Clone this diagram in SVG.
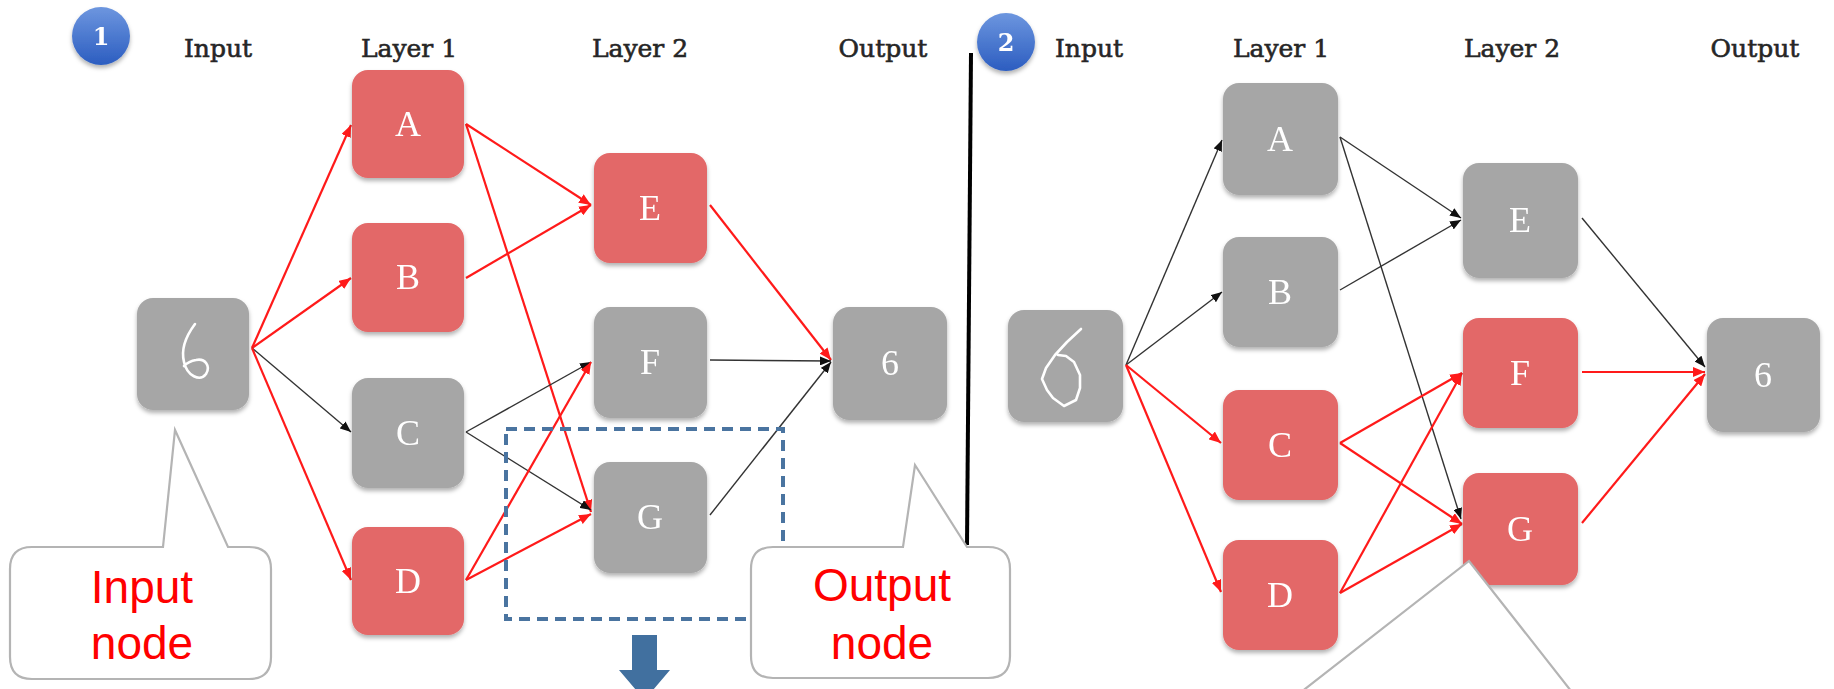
<svg xmlns="http://www.w3.org/2000/svg" width="1834" height="689" viewBox="0 0 1834 689">
  <defs>
    <style>
      .hdr { font-family: "DejaVu Serif", "Liberation Serif", serif; font-size: 25px; fill: #262626; stroke: #262626; stroke-width: 0.6; text-anchor: middle; }
      .lbl { font-family: "Liberation Serif", "DejaVu Serif", serif; font-size: 36px; fill: #ffffff; text-anchor: middle; }
      .badge-t { font-family: "DejaVu Serif", "Liberation Serif", serif; font-size: 24px; font-weight: bold; fill: #ffffff; text-anchor: middle; }
      .red { fill: #e36767; }
      .grey { fill: #a6a6a6; }
      .box { filter: url(#shadow); }
      .r { stroke: #ff1a1a; stroke-width: 2.2; fill: none; marker-end: url(#headR); }
      .k { stroke: #333333; stroke-width: 1.4; fill: none; marker-end: url(#headK); }
      .callout { fill: #ffffff; stroke: #b4b4b4; stroke-width: 2.2; }
      .ctext { font-family: "Liberation Sans", Arial, sans-serif; font-size: 46px; fill: #ff0000; text-anchor: middle; }
      .scrawl { fill: none; stroke: #ffffff; stroke-width: 2.6; stroke-linecap: round; stroke-linejoin: round; }
    </style>
    <filter id="shadow" x="-20%" y="-20%" width="140%" height="150%">
      <feDropShadow dx="0" dy="3" stdDeviation="2" flood-color="#000000" flood-opacity="0.3"/>
    </filter>
    <linearGradient id="badgeFill" x1="0" y1="0" x2="0" y2="1">
      <stop offset="0" stop-color="#6d96df"/>
      <stop offset="1" stop-color="#2c5dc0"/>
    </linearGradient>
    <marker id="headR" markerUnits="userSpaceOnUse" markerWidth="12" markerHeight="10" refX="12" refY="5" orient="auto">
      <path d="M0,0 L12,5 L0,10 z" fill="#ff1a1a"/>
    </marker>
    <marker id="headK" markerUnits="userSpaceOnUse" markerWidth="11" markerHeight="9" refX="11" refY="4.5" orient="auto">
      <path d="M0,0 L11,4.5 L0,9 z" fill="#111111"/>
    </marker>
  </defs>

  <rect width="1834" height="689" fill="#ffffff"/>

  <!-- column headings -->
  <g id="headings">
    <text class="hdr" x="218" y="57">Input</text>
    <text class="hdr" x="409" y="57">Layer 1</text>
    <text class="hdr" x="640" y="57">Layer 2</text>
    <text class="hdr" x="883" y="57">Output</text>
    <text class="hdr" x="1089" y="57">Input</text>
    <text class="hdr" x="1281" y="57">Layer 1</text>
    <text class="hdr" x="1512" y="57">Layer 2</text>
    <text class="hdr" x="1755" y="57">Output</text>
  </g>

  <!-- step badges -->
  <g id="badge1" filter="url(#shadow)">
    <circle cx="101" cy="36" r="29" fill="url(#badgeFill)"/>
    <text class="badge-t" x="101" y="45">1</text>
  </g>
  <g id="badge2" filter="url(#shadow)">
    <circle cx="1006" cy="42" r="29" fill="url(#badgeFill)"/>
    <text class="badge-t" x="1006" y="51">2</text>
  </g>

  <!-- divider between the two passes -->
  <line id="divider" x1="971" y1="53" x2="967" y2="545" stroke="#000000" stroke-width="4"/>

  <!-- connectors -->
  <g id="connectors">
    <!-- pass 1 -->
    <line class="r" x1="252" y1="348" x2="351" y2="125"/>
    <line class="r" x1="252" y1="348" x2="351" y2="278"/>
    <line class="k" x1="252" y1="348" x2="351" y2="432"/>
    <line class="r" x1="252" y1="348" x2="351" y2="580"/>
    <line class="r" x1="466" y1="124" x2="591" y2="205"/>
    <line class="r" x1="466" y1="124" x2="591" y2="512"/>
    <line class="r" x1="466" y1="278" x2="591" y2="205"/>
    <line class="k" x1="466" y1="432" x2="591" y2="362"/>
    <line class="k" x1="466" y1="432" x2="591" y2="510"/>
    <line class="r" x1="466" y1="580" x2="591" y2="362"/>
    <line class="r" x1="466" y1="580" x2="591" y2="514"/>
    <line class="r" x1="710" y1="205" x2="831" y2="360"/>
    <line class="k" x1="710" y1="360" x2="831" y2="361"/>
    <line class="k" x1="710" y1="515" x2="831" y2="362"/>
    <!-- pass 2 -->
    <line class="k" x1="1126" y1="365" x2="1222" y2="140"/>
    <line class="k" x1="1126" y1="365" x2="1222" y2="292"/>
    <line class="r" x1="1126" y1="365" x2="1221" y2="443"/>
    <line class="r" x1="1126" y1="365" x2="1221" y2="592"/>
    <line class="k" x1="1340" y1="137" x2="1461" y2="218"/>
    <line class="k" x1="1340" y1="137" x2="1461" y2="519"/>
    <line class="k" x1="1340" y1="290" x2="1461" y2="220"/>
    <line class="r" x1="1340" y1="443" x2="1462" y2="373"/>
    <line class="r" x1="1340" y1="443" x2="1462" y2="524"/>
    <line class="r" x1="1340" y1="593" x2="1462" y2="373"/>
    <line class="r" x1="1340" y1="593" x2="1462" y2="524"/>
    <line class="k" x1="1582" y1="218" x2="1705" y2="367"/>
    <line class="r" x1="1582" y1="372" x2="1705" y2="372"/>
    <line class="r" x1="1582" y1="523" x2="1705" y2="374"/>
  </g>

  <!-- pass 1 nodes -->
  <g id="p1-input" class="box">
    <rect class="grey" x="137" y="298" width="112" height="112" rx="16"/>
    <path class="scrawl" d="M195,324 C186,336 181,350 184,362 C187,376 200,382 206,374 C211,366 205,358 196,360 C190,361 186,364 184,366"/>
  </g>
  <g id="p1-A" class="box"><rect class="red" x="352" y="70" width="112" height="108" rx="16"/><text class="lbl" x="408" y="136">A</text></g>
  <g id="p1-B" class="box"><rect class="red" x="352" y="223" width="112" height="109" rx="16"/><text class="lbl" x="408" y="289">B</text></g>
  <g id="p1-C" class="box"><rect class="grey" x="352" y="378" width="112" height="110" rx="16"/><text class="lbl" x="408" y="445">C</text></g>
  <g id="p1-D" class="box"><rect class="red" x="352" y="527" width="112" height="108" rx="16"/><text class="lbl" x="408" y="593">D</text></g>
  <g id="p1-E" class="box"><rect class="red" x="594" y="153" width="113" height="110" rx="16"/><text class="lbl" x="650" y="220">E</text></g>
  <g id="p1-F" class="box"><rect class="grey" x="594" y="307" width="113" height="111" rx="16"/><text class="lbl" x="650" y="374">F</text></g>
  <g id="p1-G" class="box"><rect class="grey" x="594" y="462" width="113" height="111" rx="16"/><text class="lbl" x="650" y="529">G</text></g>
  <g id="p1-output" class="box"><rect class="grey" x="833" y="307" width="114" height="113" rx="16"/><text class="lbl" x="890" y="375">6</text></g>

  <!-- pass 2 nodes -->
  <g id="p2-input" class="box">
    <rect class="grey" x="1008" y="310" width="115" height="112" rx="16"/>
    <path class="scrawl" d="M1081,329 L1067,342 L1055,355 L1046,368 L1042,379 L1047,390 L1053,398 L1064,406 L1076,400 L1080,388 L1080,375 L1074,362 L1066,356 L1058,355"/>
  </g>
  <g id="p2-A" class="box"><rect class="grey" x="1223" y="83" width="115" height="112" rx="16"/><text class="lbl" x="1280" y="151">A</text></g>
  <g id="p2-B" class="box"><rect class="grey" x="1223" y="237" width="115" height="110" rx="16"/><text class="lbl" x="1280" y="304">B</text></g>
  <g id="p2-C" class="box"><rect class="red" x="1223" y="390" width="115" height="110" rx="16"/><text class="lbl" x="1280" y="457">C</text></g>
  <g id="p2-D" class="box"><rect class="red" x="1223" y="540" width="115" height="110" rx="16"/><text class="lbl" x="1280" y="607">D</text></g>
  <g id="p2-E" class="box"><rect class="grey" x="1463" y="163" width="115" height="115" rx="16"/><text class="lbl" x="1520" y="232">E</text></g>
  <g id="p2-F" class="box"><rect class="red" x="1463" y="318" width="115" height="110" rx="16"/><text class="lbl" x="1520" y="385">F</text></g>
  <g id="p2-G" class="box"><rect class="red" x="1463" y="473" width="115" height="112" rx="16"/><text class="lbl" x="1520" y="541">G</text></g>
  <g id="p2-output" class="box"><rect class="grey" x="1707" y="318" width="113" height="114" rx="16"/><text class="lbl" x="1763" y="387">6</text></g>

  <!-- highlighted region in pass 1 and its downward arrow -->
  <rect id="focus-box" x="506" y="429" width="277" height="190" fill="none" stroke="#4a74a0" stroke-width="4" stroke-dasharray="11 7"/>
  <path id="down-arrow" d="M632,635 L657,635 L657,670 L670,670 L644.5,700 L619,670 L632,670 z" fill="#41709f"/>

  <!-- callouts -->
  <g id="callout-input">
    <path class="callout" d="M32,547 L163,547 L175,430 L228,547 L249,547 Q271,547 271,569 L271,657 Q271,679 249,679 L32,679 Q10,679 10,657 L10,569 Q10,547 32,547 z"/>
    <text class="ctext" x="142" y="603">Input</text>
    <text class="ctext" x="142" y="659">node</text>
  </g>
  <g id="callout-output">
    <path class="callout" d="M773,547 L903,547 L915,465 L967,547 L988,547 Q1010,547 1010,569 L1010,656 Q1010,678 988,678 L773,678 Q751,678 751,656 L751,569 Q751,547 773,547 z"/>
    <text class="ctext" x="882" y="601">Output</text>
    <text class="ctext" x="882" y="659">node</text>
  </g>
  <g id="callout-g">
    <path class="callout" d="M1296,696 L1469,561 L1575,696"/>
  </g>
</svg>
